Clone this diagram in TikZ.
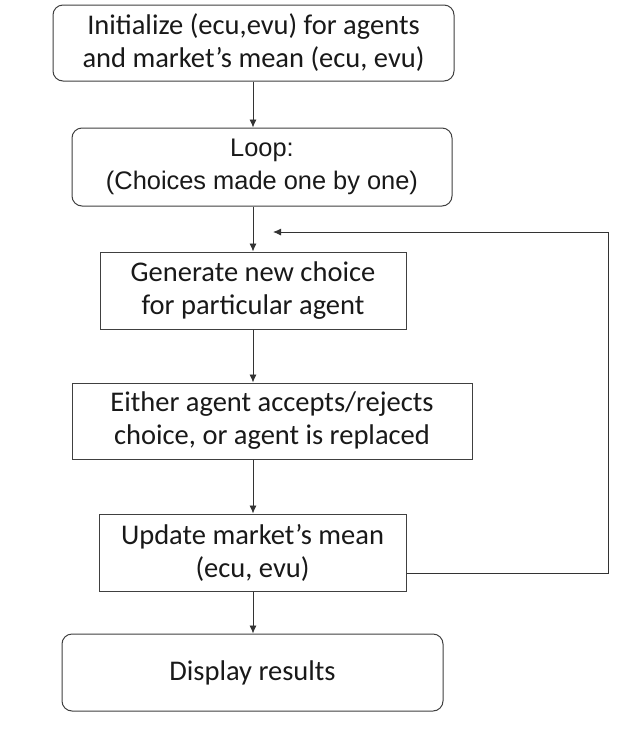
\documentclass[tikz,border=0pt]{standalone}
\usepackage{fontspec}
\setmainfont{Carlito}
\newfontfamily\arialf{Liberation Sans}
\usetikzlibrary{arrows.meta}
\begin{document}
\begin{tikzpicture}[x=1pt,y=-1pt,
  base/.style={draw=black!75, line width=1pt, align=center, inner sep=0pt,
    font=\fontsize{28.5}{33}\selectfont, text=black!90},
  rbox/.style={base, rounded corners=10pt},
  sbox/.style={base},
  arr/.style={draw=black!80, line width=0.9pt, -{Latex[length=8pt,width=7pt]}}]
\useasboundingbox[fill=white] (0,0) rectangle (624,729);
\node[rbox, minimum width=401pt, minimum height=76pt] (init) at (253.5,43)
  {Initialize (ecu,evu) for agents\\and market’s mean (ecu, evu)};
\node[rbox, minimum width=380pt, minimum height=78pt,
  font=\arialf\fontsize{25.4}{33}\selectfont] (loop) at (262,167)
  {\raisebox{-4pt}{Loop:}\\\raisebox{-4pt}{(Choices made one by one)}};
\node[sbox, minimum width=306pt, minimum height=77pt] (gen) at (253,290.5)
  {Generate new choice\\for particular agent};
\node[sbox, minimum width=400pt, minimum height=76pt] (either) at (272,421)
  {Either agent accepts/rejects\\choice, or agent is replaced};
\node[sbox, minimum width=307pt, minimum height=77pt] (upd) at (252.5,552.5)
  {Update market’s mean\\(ecu, evu)};
\node[rbox, minimum width=381pt, minimum height=77pt] (disp) at (252.5,672.5)
  {Display results};
\coordinate (ax) at (253,0);
\coordinate (ly) at (0,573);
\coordinate (loopR) at (608,573);
\coordinate (loopTR) at (608,232);
\coordinate (loopEnd) at (273,232);
\draw[arr] (init.south -| ax) -- (loop.north -| ax);
\draw[arr] (loop.south -| ax) -- (gen.north -| ax);
\draw[arr] (gen.south -| ax) -- (either.north -| ax);
\draw[arr] (either.south -| ax) -- (upd.north -| ax);
\draw[arr] (upd.south -| ax) -- (disp.north -| ax);
\draw[arr] (upd.east |- ly) -- (loopR) -- (loopTR) -- (loopEnd);
\end{tikzpicture}
\end{document}
